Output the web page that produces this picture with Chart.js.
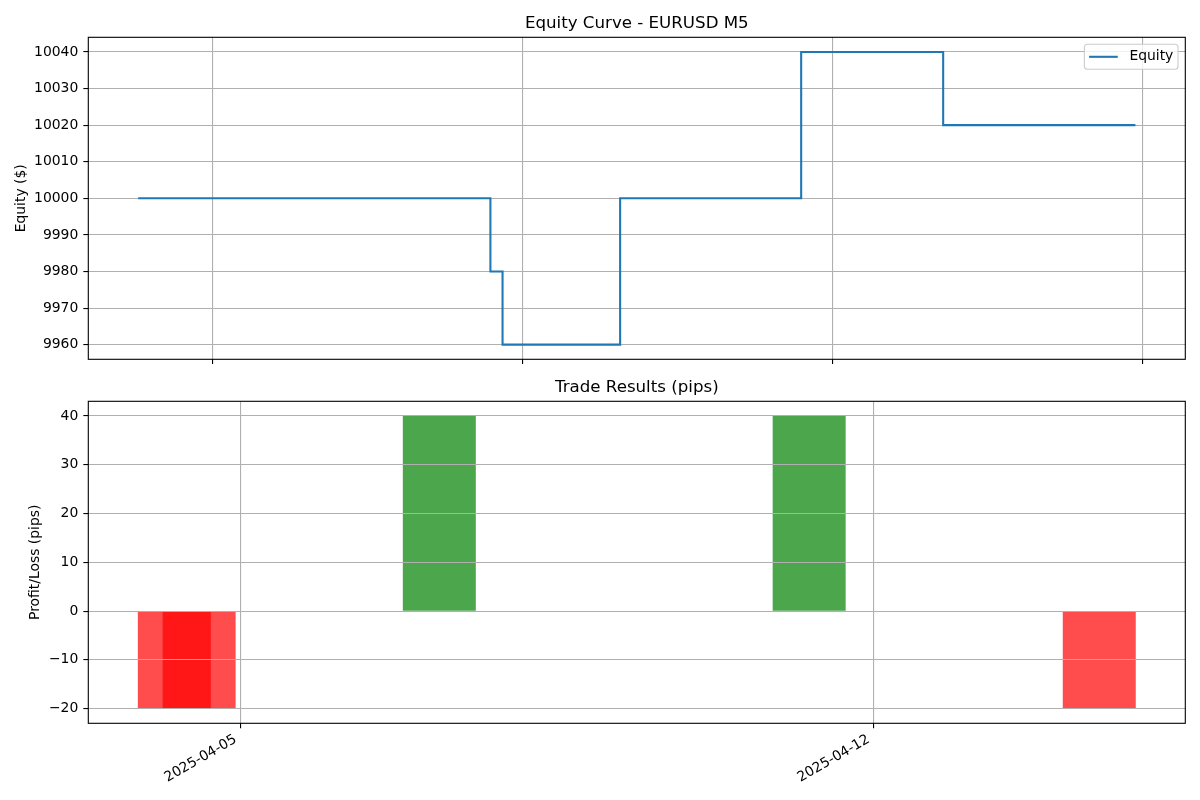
<!DOCTYPE html>
<html><head><meta charset="utf-8">
<script src="https://cdn.jsdelivr.net/npm/chart.js@4.4.1/dist/chart.umd.min.js"></script>
<style>
html,body{margin:0;padding:0;background:#fff;}
#wrap{position:relative;width:1200px;height:800px;background:#fff;overflow:hidden;}
canvas{position:absolute;left:0;}
#c1{top:0;}
#c2{top:364px;}
</style></head><body>
<div id="wrap">
<canvas id="c1" width="1200" height="364"></canvas>
<canvas id="c2" width="1200" height="436"></canvas>
</div>
<script>
// ---- data ----
const equityTimes = ['2025-03-27 07:25','2025-04-04 06:25','2025-04-04 13:00','2025-04-07 04:45','2025-04-11 06:55','2025-04-14 11:55','2025-04-18 20:10'];
const equityValues = [10000, 9980, 9960, 10000, 10040, 10020, 10020];
const tradeTimes = ['2025-04-04 06:25','2025-04-04 13:00','2025-04-07 04:45','2025-04-11 06:55','2025-04-14 11:55'];
const tradePips = [-20, -20, 40, 40, -20];
const equityTickDates = ['2025-03-29','2025-04-05','2025-04-12','2025-04-19'];
const tradeTickDates = ['2025-04-05','2025-04-12'];
const equityYTicks = [9960, 9970, 9980, 9990, 10000, 10010, 10020, 10030, 10040];
const pipsYTicks = [-20, -10, 0, 10, 20, 30, 40];
const barWidthDays = 0.8;

// ---- helpers ----
const REF = Date.UTC(2025, 3, 5);
function toDays(s) {
  const parts = s.split(' ');
  const [Y, M, D] = parts[0].split('-').map(Number);
  const [h, m] = (parts[1] || '00:00').split(':').map(Number);
  return (Date.UTC(Y, M - 1, D, h, m) - REF) / 86400000;
}
function fmtDay(v) { return new Date(REF + Math.round(v * 86400000)).toISOString().slice(0, 10); }
function fmtNum(v) { return String(v).replace('-', '\u2212'); }
function padRange(lo, hi, f) { const r = hi - lo; return [lo - r * f, hi + r * f]; }

const FONT = "'DejaVu Sans', sans-serif";
Chart.defaults.font.family = FONT;
Chart.defaults.font.size = 13.9;
Chart.defaults.color = '#000';

const gridOpts = { color: '#b0b0b0', lineWidth: 1.1, tickColor: '#000', tickWidth: 1.1, tickLength: 5, drawTicks: true };
const titleOpts = (text) => ({ display: true, fullSize: false, text, color: '#000', font: { family: FONT, size: 16.67, weight: 'normal' }, padding: { top: 13.2, bottom: 4.1 } });
const noPad = s => { s.paddingTop = 0; s.paddingBottom = 0; };

const framePlugin = {
  id: 'frame',
  afterDraw(chart, args, opts) {
    const { ctx, chartArea: a } = chart;
    ctx.save();
    ctx.strokeStyle = '#000';
    ctx.lineWidth = 1.1;
    ctx.strokeRect(a.left, a.top, a.right - a.left, a.bottom - a.top);
    if (opts && opts.legend) {
      const ds = chart.data.datasets[0];
      ctx.font = '13.9px ' + FONT;
      const tw = ctx.measureText(ds.label).width;
      const fr = a.right - 7.3, ft = a.top + 7, fh = 25;
      const tx = fr - 4.7 - tw;
      const le = tx - 11.6, ls = le - 28.7;
      const fl = ls - 4.7;
      const r = 3;
      ctx.beginPath();
      ctx.moveTo(fl + r, ft); ctx.lineTo(fr - r, ft); ctx.quadraticCurveTo(fr, ft, fr, ft + r);
      ctx.lineTo(fr, ft + fh - r); ctx.quadraticCurveTo(fr, ft + fh, fr - r, ft + fh);
      ctx.lineTo(fl + r, ft + fh); ctx.quadraticCurveTo(fl, ft + fh, fl, ft + fh - r);
      ctx.lineTo(fl, ft + r); ctx.quadraticCurveTo(fl, ft, fl + r, ft);
      ctx.closePath();
      ctx.fillStyle = 'rgba(255,255,255,0.8)';
      ctx.fill();
      ctx.strokeStyle = '#cccccc';
      ctx.lineWidth = 1.1;
      ctx.stroke();
      const cy = ft + fh / 2;
      ctx.strokeStyle = ds.borderColor;
      ctx.lineWidth = ds.borderWidth;
      ctx.beginPath(); ctx.moveTo(ls, cy); ctx.lineTo(le, cy); ctx.stroke();
      ctx.fillStyle = '#000';
      ctx.textBaseline = 'middle';
      ctx.textAlign = 'left';
      ctx.fillText(ds.label, tx, cy);
    }
    ctx.restore();
  }
};

// ---- top chart: equity ----
const eqX = equityTimes.map(toDays);
const [ex0, ex1] = padRange(Math.min(...eqX), Math.max(...eqX), 0.05);
const [ey0, ey1] = padRange(Math.min(...equityValues), Math.max(...equityValues), 0.05);

new Chart(document.getElementById('c1'), {
  type: 'line',
  data: {
    datasets: [{
      label: 'Equity',
      data: eqX.map((x, i) => ({ x, y: equityValues[i] })),
      borderColor: '#1f77b4',
      backgroundColor: '#1f77b4',
      borderWidth: 2.08,
      pointRadius: 0,
      stepped: 'before',
      fill: false,
      tension: 0
    }]
  },
  options: {
    responsive: false, maintainAspectRatio: false, animation: false,
    layout: { padding: { left: 12.7, right: 14.7, top: 0, bottom: 0 } },
    plugins: {
      legend: { display: false },
      tooltip: { enabled: false },
      title: titleOpts('Equity Curve - EURUSD M5'),
      frame: { legend: true }
    },
    scales: {
      x: {
        type: 'linear', min: ex0, max: ex1, bounds: 'data', offset: false,
        afterBuildTicks: s => { s.ticks = equityTickDates.map(d => ({ value: toDays(d) })); },
        ticks: { display: false },
        grid: Object.assign({}, gridOpts, { offset: false }),
        border: { display: false },
        afterFit: s => { s.height = 4.7; s.paddingLeft = 0; s.paddingRight = 0; }
      },
      y: {
        type: 'linear', min: ey0, max: ey1, bounds: 'data',
        afterBuildTicks: s => { s.ticks = equityYTicks.map(v => ({ value: v })); },
        ticks: { padding: 5, callback: v => fmtNum(v), font: { size: 13.9 } },
        grid: gridOpts,
        border: { display: false },
        title: { display: true, text: 'Equity ($)', padding: 0, font: { size: 13.9 } },
        afterFit: s => { s.width = 75.6; noPad(s); }
      }
    }
  },
  plugins: [framePlugin]
});

// ---- bottom chart: trade results ----
const trX = tradeTimes.map(toDays);
const [bx0, bx1] = padRange(Math.min(...trX) - barWidthDays / 2, Math.max(...trX) + barWidthDays / 2, 0.05);
const [by0, by1] = padRange(Math.min(0, ...tradePips), Math.max(0, ...tradePips), 0.05);

new Chart(document.getElementById('c2'), {
  type: 'bar',
  data: {
    datasets: [{
      label: 'Trade Results',
      data: trX.map((x, i) => ({ x, y: tradePips[i] })),
      backgroundColor: tradePips.map(v => v >= 0 ? 'rgba(0,128,0,0.7)' : 'rgba(255,0,0,0.7)'),
      borderWidth: 0,
      barThickness: (ctx) => {
        const s = ctx.chart.scales.x;
        return Math.abs(s.getPixelForValue(barWidthDays) - s.getPixelForValue(0));
      }
    }]
  },
  options: {
    responsive: false, maintainAspectRatio: false, animation: false,
    layout: { padding: { left: 27.2, right: 14.7, top: 0, bottom: 0 } },
    plugins: {
      legend: { display: false },
      tooltip: { enabled: false },
      title: titleOpts('Trade Results (pips)'),
      frame: { legend: false }
    },
    scales: {
      x: {
        type: 'linear', min: bx0, max: bx1, bounds: 'data', offset: false,
        afterBuildTicks: s => { s.ticks = tradeTickDates.map(d => ({ value: toDays(d) })); },
        ticks: { autoSkip: false, minRotation: 30, maxRotation: 30, padding: 3, labelOffset: -5, callback: v => fmtDay(v), font: { size: 13.9 } },
        grid: Object.assign({}, gridOpts, { offset: false, z: 1 }),
        border: { display: false },
        afterFit: s => { s.height = 76.7; s.paddingLeft = 0; s.paddingRight = 0; }
      },
      y: {
        type: 'linear', min: by0, max: by1, bounds: 'data', beginAtZero: false,
        afterBuildTicks: s => { s.ticks = pipsYTicks.map(v => ({ value: v })); },
        ticks: { padding: 5, callback: v => fmtNum(v), font: { size: 13.9 } },
        grid: Object.assign({}, gridOpts, { z: 1 }),
        border: { display: false },
        title: { display: true, text: 'Profit/Loss (pips)', padding: 0, font: { size: 13.9 } },
        afterFit: s => { s.width = 61.1; noPad(s); }
      }
    }
  },
  plugins: [framePlugin]
});
</script>
</body></html>
